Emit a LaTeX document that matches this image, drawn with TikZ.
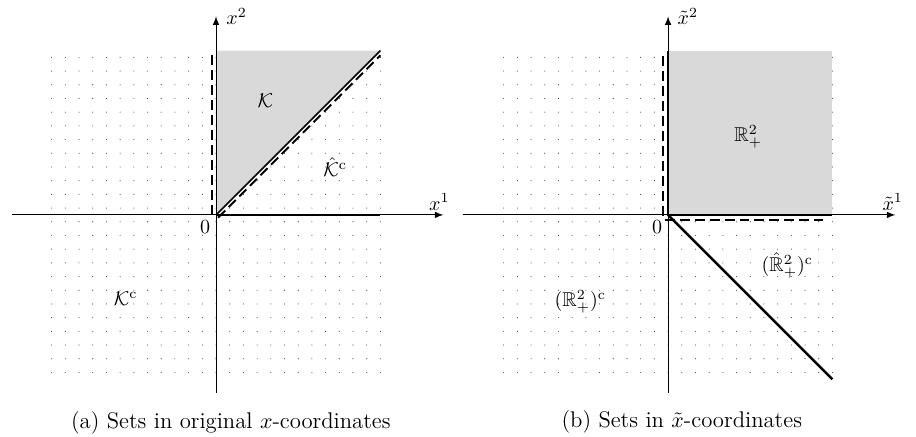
\documentclass[tikz,border=0pt]{standalone}
\usepackage{amssymb}
\tikzset{
  axis/.style={-latex,line width=0.5pt},
  bound/.style={line width=1.3pt},
  setdash/.style={dash pattern=on 5pt off 2.5pt,line width=0.9pt},
  griddot/.style={fill=black!70},
  setlabel/.style={font=\fontsize{10}{12}\selectfont},
  caption/.style={font=\fontsize{11.35}{13}\selectfont}
}
\begin{document}
\begin{tikzpicture}[x=0.2408cm,y=0.2408cm]
\useasboundingbox (-15.77,-16.2) rectangle (51.1,15.69);
% left: original coordinates
\foreach \i in {-12,...,12}
  \foreach \j in {-11.5,-10.5,...,11.5}
    \fill[griddot] (\i,\j) circle (0.28pt);
\fill[black!15] (0,0)--(0,12)--(12,12)--cycle;
\draw[axis] (-14.9,0)--(16.6,0);
\draw[axis] (0,-13)--(0,14.5);
\draw[bound] (0,0)--(12,0);
\draw[line width=0.8pt] (0,0)--(12,12);
\draw[setdash] (-0.3,0)--(-0.3,11.7);
\draw[setdash] (0.15,-0.2)--(12,11.65);
\node[setlabel] (xa) at (1.5,14.5) {$x^2$};
\node[setlabel] (xb) at (16.3,0.95) {$x^1$};
\node[setlabel] (oa) at (-0.8,-0.9) {$0$};
\node[setlabel] (kset) at (3.6,8.35) {$\mathcal{K}$};
\node[setlabel] (khat) at (8.7,3.5) {$\hat{\mathcal{K}}^{\mathrm{c}}$};
\node[setlabel] (kcomp) at (-6.6,-6.1) {$\mathcal{K}^{\mathrm{c}}$};
\node[caption] (capa) at (1.08,-15.2) {(a) Sets in original $x$-coordinates};
% right: transformed coordinates
\begin{scope}[shift={(33,0)}]
\foreach \i in {-12,...,12}
  \foreach \j in {-11.5,-10.5,...,11.5}
    \fill[griddot] (\i,\j) circle (0.28pt);
\fill[black!15] (0,0) rectangle (12,12);
\draw[axis] (-15,0)--(16.6,0);
\draw[axis] (0,-13)--(0,14.5);
\draw[bound] (0,12)--(0,0)--(12,0);
\draw[bound] (0,0)--(12,-12);
\draw[setdash] (-0.35,11.6)--(-0.35,-0.35)--(11.3,-0.35);
\node[setlabel] (ta) at (1.45,14.5) {$\tilde{x}^2$};
\node[setlabel] (tb) at (16.4,0.95) {$\tilde{x}^1$};
\node[setlabel] (ob) at (-0.8,-0.9) {$0$};
\node[setlabel] (rset) at (5.85,5.7) {$\mathbb{R}^2_+$};
\node[setlabel] (rhat) at (8.7,-3.7) {$(\hat{\mathbb{R}}^2_+)^{\mathrm{c}}$};
\node[setlabel] (rcomp) at (-6.4,-6.35) {$(\mathbb{R}^2_+)^{\mathrm{c}}$};
\node[caption] (capb) at (1.0,-15.1) {(b) Sets in $\tilde{x}$-coordinates};
\end{scope}
\end{tikzpicture}
\end{document}
